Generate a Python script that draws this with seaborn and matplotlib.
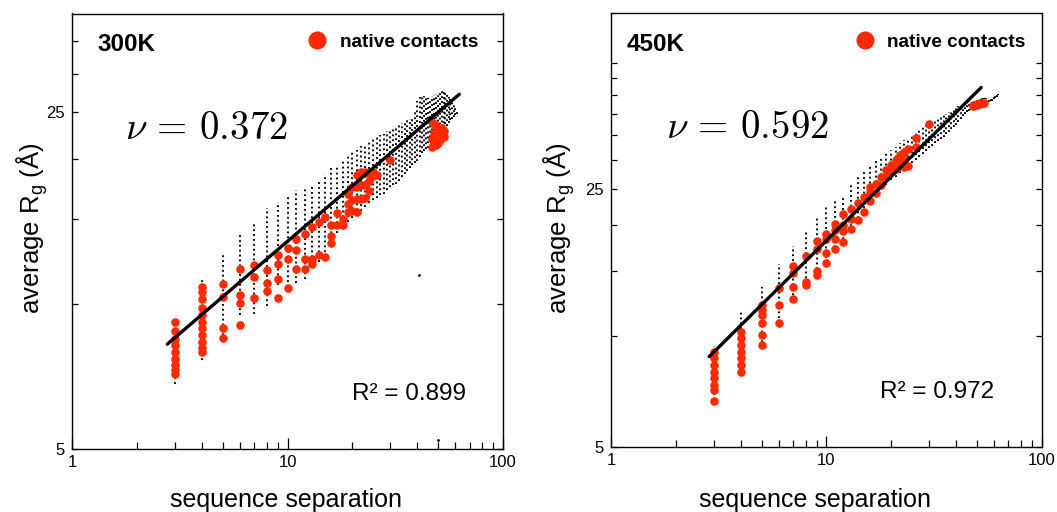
import matplotlib
matplotlib.use("Agg")
import matplotlib.pyplot as plt
from matplotlib.ticker import FixedLocator, FixedFormatter, NullFormatter
from matplotlib.lines import Line2D
import seaborn as sns

# ---------------- data: 300K panel ----------------
cols_300_sep = [3, 4, 5, 6, 7, 8, 9, 10, 11, 12, 13, 14, 15, 16, 17, 18, 19, 20,
                21, 22, 23, 24, 25, 26, 27, 28, 29, 30, 31, 32, 33, 34, 35, 36, 37,
                38, 39, 40, 41, 42, 43, 44, 45, 46, 47, 48, 49, 50, 51, 52, 53, 54,
                55, 56, 57, 58, 59, 60, 61]
cols_300_lo = [6.81, 7.64, 8.4, 9.5, 9.53, 9.88, 10.93, 11.1, 11.07, 11.24, 11.92,
               12.2, 12.5, 13.4, 14.0, 14.4, 14.8, 15.1, 15.3, 15.6, 15.9, 16.2, 16.4,
               16.6, 16.8, 16.9, 17.2, 17.5, 17.6, 17.7, 18.0, 18.3, 18.6, 18.9, 19.1,
               19.4, 19.6, 19.8, 20.2, 20.5, 20.7, 20.9, 21.0, 21.1, 21.3, 21.4, 21.6,
               21.8, 22.0, 22.2, 22.6, 23.0, 23.4, 23.7, 24.0, 24.2, 24.4, 24.6, 24.8]
cols_300_hi = [9.39, 11.24, 12.61, 13.98, 14.78, 15.8, 16.3, 16.79, 17.19, 17.45, 17.6,
               18.0, 18.6, 19.15, 19.4, 19.9, 20.3, 20.6, 20.8, 21.2, 21.5, 21.8, 22.0,
               22.2, 22.4, 22.5, 22.8, 23.0, 23.1, 23.2, 23.5, 23.7, 23.9, 24.0, 24.2,
               24.4, 25.2, 26.4, 26.9, 27.1, 27.0, 26.8, 26.7, 26.6, 27.0, 27.1, 27.3,
               27.4, 27.5, 27.7, 27.6, 27.4, 27.2, 26.9, 26.6, 26.2, 25.8, 25.5, 25.2]
stray_300_sep = [40.8, 49.8]
stray_300_rg = [11.49, 5.23]

native_300_sep = [3, 3, 3, 3, 3, 3, 3, 3, 3,
                  4, 4, 4, 4, 4, 4, 4, 4, 4, 4, 4,
                  5, 5, 5, 5, 6, 6, 6, 6, 7, 7, 7, 8, 8, 8, 9, 9, 9, 9,
                  10, 10, 10, 11, 11, 11, 12, 12, 12, 13, 13, 13, 14, 14, 15, 15,
                  16, 16, 16, 17, 17, 18, 18, 19, 19, 19, 20, 20, 20,
                  21, 21, 21, 21, 22, 22, 22, 23, 23, 23, 24, 24, 24, 25, 25, 26, 30,
                  47, 47, 47, 48, 48, 48, 49, 49, 49, 50, 50, 50, 51, 51, 51,
                  52, 52, 53, 53]
native_300_rg = [9.17, 8.77, 8.47, 8.21, 7.95, 7.70, 7.46, 7.29, 7.14,
                 10.84, 10.59, 10.22, 9.81, 9.47, 9.17, 8.89, 8.61, 8.34, 8.08, 7.93,
                 10.98, 10.33, 8.91, 8.50, 11.83, 10.42, 10.06, 9.03,
                 12.02, 11.34, 10.28, 11.78, 11.07, 10.64, 12.65, 12.12, 11.28, 10.30,
                 13.06, 12.41, 10.79, 13.65, 12.91, 11.83, 13.98, 12.41, 11.80,
                 14.43, 12.37, 12.12, 14.78, 12.61, 15.13, 12.50,
                 14.60, 13.82, 13.37, 15.43, 14.60, 15.02, 14.60, 16.90, 16.10, 15.50,
                 17.50, 16.40, 15.60, 18.50, 17.50, 16.50, 15.50, 18.75, 17.60, 16.50,
                 18.75, 17.60, 16.60, 18.60, 18.00, 17.10, 18.75, 18.40, 18.50, 19.83,
                 23.80, 22.00, 21.10, 23.60, 22.60, 21.50, 23.40, 22.40, 21.30,
                 23.20, 22.20, 21.60, 23.00, 22.40, 21.90, 23.10, 22.60, 22.80, 22.20]
fit_300_sep = [2.77, 62.7]
fit_300_rg = [8.25, 27.2]

# ---------------- data: 450K panel ----------------
cols_450_sep = list(range(3, 64))
cols_450_lo = [6.7, 7.92, 9.36, 10.83, 12.5, 13.5, 14.3, 15.8, 16.9, 17.8, 19.3, 20.2,
               21.5, 22.9, 23.8, 24.9, 25.7, 26.5, 27.0, 27.6, 28.2, 28.8, 29.4, 30.0,
               30.6, 31.2, 31.8, 32.3, 32.8, 33.3, 33.8, 34.3, 34.7, 35.3, 35.8, 36.4,
               36.9, 37.3, 38.0, 38.7, 39.4, 40.0, 40.5, 40.8, 41.1, 41.3, 41.5, 41.7,
               41.9, 42.1, 42.3, 42.5, 42.7, 42.9, 43.1, 43.3, 43.5, 43.8, 44.2, 44.6,
               45.0]
cols_450_hi = [9.42, 11.6, 13.6, 15.65, 17.5, 19.3, 21.1, 22.6, 23.2, 24.0, 25.7, 27.0,
               28.2, 29.2, 30.0, 30.7, 31.3, 31.9, 32.6, 33.3, 33.9, 34.5, 35.1, 35.7,
               36.2, 36.8, 37.3, 37.7, 38.1, 38.5, 38.9, 39.3, 39.7, 40.1, 40.5, 40.9,
               41.3, 41.7, 42.0, 42.3, 42.6, 42.9, 43.1, 43.3, 43.5, 43.6, 43.7, 43.8,
               43.9, 44.0, 44.1, 44.2, 44.2, 44.3, 44.4, 44.5, 44.6, 44.7, 44.9, 45.0,
               45.2]

native_450_sep = [3, 3, 3, 3, 3, 3, 3, 3,
                  4, 4, 4, 4, 4, 4, 4,
                  5, 5, 5, 5, 5, 5, 6, 6, 6, 7, 7, 7, 7, 8, 8, 8, 9, 9, 9, 9,
                  10, 10, 10, 10, 11, 11, 11, 11, 12, 12, 12, 12, 13, 13, 13,
                  14, 14, 15, 15, 16, 16, 16, 17, 17, 18, 18, 19, 19, 20, 20,
                  21, 21, 22, 22, 23, 23, 23, 24, 24, 26, 26, 30,
                  48, 48, 50, 50, 52, 52, 54]
native_450_rg = [9.07, 8.70, 8.35, 8.00, 7.68, 7.37, 7.14, 6.68,
                 10.27, 9.86, 9.45, 9.07, 8.70, 8.35, 8.00,
                 12.13, 11.76, 11.40, 10.83, 10.06, 9.45, 13.48, 12.13, 10.87,
                 15.48, 14.79, 13.55, 12.60, 16.48, 14.03, 13.75,
                 18.13, 17.18, 15.03, 14.63, 18.87, 18.28, 16.75, 15.80,
                 20.10, 19.37, 18.28, 17.20, 21.37, 20.00, 19.26, 18.01,
                 22.06, 20.72, 19.46, 22.90, 20.60, 23.85, 21.70, 25.40, 24.60, 23.20,
                 25.90, 24.40, 27.00, 25.70, 28.20, 27.10, 29.10, 28.20,
                 30.00, 28.40, 30.90, 29.40, 31.60, 30.30, 28.70, 32.10, 28.90,
                 34.40, 32.60, 37.50,
                 42.00, 42.40, 42.20, 42.60, 42.50, 42.90, 42.80]
fit_450_sep = [2.85, 52.4]
fit_450_rg = [8.79, 47.2]

x_ticks = [1, 10, 100]
x_ticklabels = ["1", "10", "100"]
x_minor = [2, 3, 4, 5, 6, 7, 8, 9, 20, 30, 40, 50, 60, 70, 80, 90]
y_ticks = [5, 25]
y_ticklabels = ["5", "25"]
y_minor_300 = [10, 15, 20, 30, 35]
y_minor_450 = [10, 15, 20, 30, 35, 40, 45, 50, 55]

RED = "#ff2a00"

sns.set_style("white")
plt.rcParams["font.family"] = ["Liberation Sans", "DejaVu Sans"]
plt.rcParams["axes.linewidth"] = 1.0
for key in ["text.color", "axes.labelcolor", "xtick.color", "ytick.color",
            "axes.edgecolor"]:
    plt.rcParams[key] = "black"

fig = plt.figure(figsize=(10.57, 5.12), dpi=100)
axL = fig.add_axes([72 / 1057, (512 - 449) / 512, 431 / 1057, 435.5 / 512])
axR = fig.add_axes([611.3 / 1057, (512 - 447) / 512, 430.3 / 1057, 433.7 / 512])

panels = [
    dict(ax=axL, temp="300K", nu=r"$\nu\,=\,0.372$", r2="R² = 0.899",
         cs=cols_300_sep, lo=cols_300_lo, hi=cols_300_hi,
         ns=native_300_sep, nr=native_300_rg, fs=fit_300_sep, fr=fit_300_rg,
         ylim=(5, 40), yminor=y_minor_300,
         tempx=0.060, nux=0.123, r2x=0.913, legx=0.546,
         ylab=(-0.052, 0.507), xlab=(0.4965, -0.090)),
    dict(ax=axR, temp="450K", nu=r"$\nu\,=\,0.592$", r2="R² = 0.972",
         cs=cols_450_sep, lo=cols_450_lo, hi=cols_450_hi,
         ns=native_450_sep, nr=native_450_rg, fs=fit_450_sep, fr=fit_450_rg,
         ylim=(5, 75), yminor=y_minor_450,
         tempx=0.036, nux=0.127, r2x=0.8905, legx=0.5666,
         ylab=(-0.079, 0.505), xlab=(0.473, -0.095)),
]

for p in panels:
    ax = p["ax"]
    ax.set_xscale("log")
    ax.set_yscale("log")
    ax.set_xlim(1, 100)
    ax.set_ylim(*p["ylim"])

    # simulated Rg distribution per separation (columns of small dots)
    ax.vlines(p["cs"], p["lo"], p["hi"], colors="black", linewidth=1.35,
              linestyles=(0, (1.0, 1.6)), zorder=2)
    if p["temp"] == "300K":
        sns.scatterplot(x=stray_300_sep, y=stray_300_rg, ax=ax, color="black",
                        s=4, linewidth=0, zorder=2, legend=False)

    sns.scatterplot(x=p["ns"], y=p["nr"], ax=ax, color=RED, s=38, linewidth=0,
                    zorder=3, legend=False)
    sns.lineplot(x=p["fs"], y=p["fr"], ax=ax, color="black", linewidth=2.4,
                 zorder=4, legend=False)

    ax.xaxis.set_major_locator(FixedLocator(x_ticks))
    ax.xaxis.set_major_formatter(FixedFormatter(x_ticklabels))
    ax.xaxis.set_minor_locator(FixedLocator(x_minor))
    ax.xaxis.set_minor_formatter(NullFormatter())
    ax.yaxis.set_major_locator(FixedLocator(y_ticks))
    ax.yaxis.set_major_formatter(FixedFormatter(y_ticklabels))
    ax.yaxis.set_minor_locator(FixedLocator(p["yminor"]))
    ax.yaxis.set_minor_formatter(NullFormatter())

    ax.tick_params(axis="x", which="both", direction="in", top=False, bottom=True,
                   labelsize=12, pad=4.5, width=0.9)
    ax.tick_params(axis="x", which="major", length=8)
    ax.tick_params(axis="x", which="minor", length=5)
    ax.tick_params(axis="y", which="both", direction="in", left=True, right=True,
                   labelsize=12, pad=5.5, length=4.5, width=0.9)

    for s in ax.spines.values():
        s.set_color("black")
        s.set_linewidth(1.0)

    ax.set_xlabel("sequence separation", fontsize=18)
    ax.set_ylabel("average R$_\\mathregular{g}$ (Å)", fontsize=18.5)
    ax.xaxis.set_label_coords(*p["xlab"])
    ax.yaxis.set_label_coords(*p["ylab"])

    ax.text(p["tempx"], 0.928, p["temp"], transform=ax.transAxes, fontsize=17.5,
            fontweight="bold", ha="left", va="center")
    ax.text(p["nux"], 0.735, p["nu"], transform=ax.transAxes, fontsize=28,
            math_fontfamily="cm", ha="left", va="center")
    ax.text(p["r2x"], 0.127, p["r2"], transform=ax.transAxes, fontsize=17.5,
            ha="right", va="center")

    handle = Line2D([], [], marker="o", linestyle="", color=RED,
                    markersize=13, markeredgewidth=0)
    ax.legend(handles=[handle], labels=["native contacts"], loc="center left",
              bbox_to_anchor=(p["legx"], 0.934), frameon=False, borderpad=0,
              borderaxespad=0, handlelength=1.0, handletextpad=0.7,
              prop={"weight": "bold", "size": 13.7})

fig.savefig("out.png", dpi=100)
